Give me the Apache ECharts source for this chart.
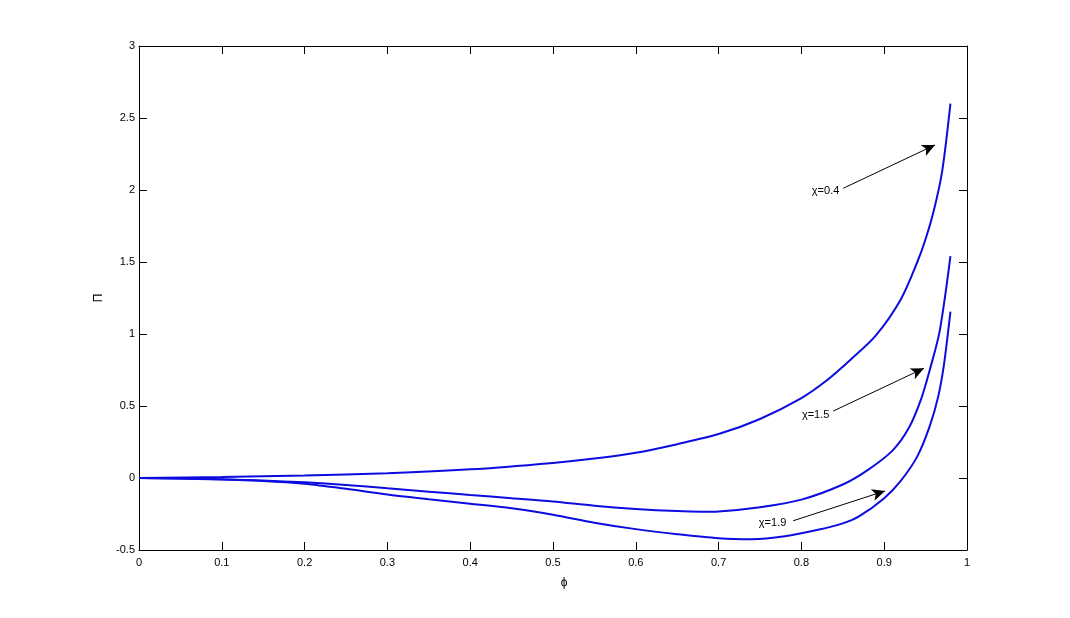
<!DOCTYPE html>
<html>
<head>
<meta charset="utf-8">
<script src="https://cdn.jsdelivr.net/npm/echarts@6/dist/echarts.min.js"></script>
<style>
html,body{margin:0;padding:0;background:#fff;}
#chart{width:1070px;height:618px;}
</style>
</head>
<body>
<div id="chart"></div>
<script>
// Curve chi = 0.4
var x04 = [0, 0.1, 0.2, 0.3, 0.4, 0.5, 0.55, 0.6, 0.65, 0.7, 0.75, 0.8, 0.83, 0.86, 0.89, 0.92, 0.94, 0.95, 0.96, 0.97, 0.98];
var y04 = [0, 0.007, 0.018, 0.033, 0.06, 0.105, 0.135, 0.175, 0.235, 0.305, 0.41, 0.555, 0.675, 0.825, 0.99, 1.24, 1.5, 1.66, 1.86, 2.13, 2.6];
// Curve chi = 1.5
var x15 = [0, 0.1, 0.15, 0.2, 0.25, 0.3, 0.35, 0.4, 0.45, 0.5, 0.55, 0.6, 0.65, 0.68, 0.7, 0.75, 0.8, 0.85, 0.88, 0.91, 0.93, 0.945, 0.955, 0.967, 0.98];
var y15 = [0, -0.008, -0.018, -0.03, -0.048, -0.072, -0.095, -0.118, -0.14, -0.163, -0.193, -0.215, -0.23, -0.234, -0.232, -0.203, -0.15, -0.045, 0.055, 0.19, 0.35, 0.555, 0.75, 1.02, 1.54];
// Curve chi = 1.9
var x19 = [0, 0.1, 0.15, 0.2, 0.25, 0.3, 0.35, 0.4, 0.45, 0.5, 0.55, 0.6, 0.65, 0.7, 0.74, 0.78, 0.82, 0.85, 0.87, 0.9, 0.92, 0.94, 0.955, 0.965, 0.972, 0.98];
var y19 = [0, -0.01, -0.02, -0.04, -0.075, -0.115, -0.148, -0.178, -0.21, -0.255, -0.31, -0.355, -0.39, -0.418, -0.425, -0.405, -0.36, -0.315, -0.265, -0.14, -0.02, 0.15, 0.36, 0.56, 0.78, 1.155];

// Annotation labels and arrows (data coordinates)
var annLabels = ['\u03c7=0.4', '\u03c7=1.5', '\u03c7=1.9'];
var annTextPos = [[0.847, 1.995], [0.835, 0.4375], [0.783, -0.31]];
var annArrowFrom = [[0.8506, 2.012], [0.8385, 0.465], [0.790, -0.297]];
var annArrowTo = [[0.9614, 2.313], [0.948, 0.762], [0.901, -0.090]];

var xTicks = {min: 0, max: 1, interval: 0.1};
var yTicks = {min: -0.5, max: 3, interval: 0.5};

function pairs(xs, ys){ return xs.map(function(v,i){ return [v, ys[i]]; }); }

var FONT = 'Liberation Sans, Arial, Helvetica, sans-serif';
var curveColor = '#0c0ce0';

function curve(xs, ys, idx){
  return {
    type: 'line',
    data: pairs(xs, ys),
    showSymbol: false,
    smooth: 0.3,
    lineStyle: {color: curveColor, width: 2},
    itemStyle: {color: curveColor},
    silent: true,
    markLine: {
      silent: true,
      animation: false,
      label: {show: false},
      lineStyle: {color: '#000', width: 1, type: 'solid'},
      data: [[
        {coord: annArrowFrom[idx], symbol: 'none'},
        {coord: annArrowTo[idx], symbol: 'arrow', symbolSize: [9, 13]}
      ]]
    },
    markPoint: {
      silent: true,
      animation: false,
      symbol: 'circle',
      symbolSize: 0,
      data: [{coord: annTextPos[idx], value: annLabels[idx]}],
      label: {
        show: true,
        position: 'left',
        distance: 1,
        formatter: annLabels[idx],
        color: '#000',
        fontFamily: FONT,
        fontSize: 11
      }
    }
  };
}

var chart = echarts.init(document.getElementById('chart'), null, {renderer: 'canvas'});
var axisLineStyle = {show: true, onZero: false, lineStyle: {color: '#000', width: 1}};
var tickStyle = {show: true, inside: true, length: 8, lineStyle: {color: '#000', width: 1}};
var labelStyle = {color: '#000', fontFamily: FONT, fontSize: 11};

chart.setOption({
  animation: false,
  backgroundColor: '#fff',
  grid: {left: 139, top: 46, right: 103, bottom: 68, containLabel: false},
  xAxis: [{
    type: 'value', position: 'bottom',
    min: xTicks.min, max: xTicks.max, interval: xTicks.interval,
    axisLine: axisLineStyle, axisTick: tickStyle,
    axisLabel: Object.assign({margin: 7, formatter: function(v){ return +v.toFixed(1) + ''; }}, labelStyle),
    splitLine: {show: false},
    name: '\u03d5', nameLocation: 'middle', nameGap: 27,
    nameTextStyle: {color: '#000', fontFamily: FONT, fontSize: 12, padding: [0, 0, 0, 22]}
  }, {
    type: 'value', position: 'top',
    min: xTicks.min, max: xTicks.max, interval: xTicks.interval,
    axisLine: axisLineStyle, axisTick: tickStyle,
    axisLabel: {show: false}, splitLine: {show: false}
  }],
  yAxis: [{
    type: 'value', position: 'left',
    min: yTicks.min, max: yTicks.max, interval: yTicks.interval,
    axisLine: axisLineStyle, axisTick: tickStyle,
    axisLabel: Object.assign({margin: 4, formatter: function(v){ return +v.toFixed(1) + ''; }}, labelStyle),
    splitLine: {show: false},
    name: '\u03a0', nameLocation: 'middle', nameGap: 34, nameRotate: 90,
    nameTextStyle: {color: '#000', fontFamily: FONT, fontSize: 12}
  }, {
    type: 'value', position: 'right',
    min: yTicks.min, max: yTicks.max, interval: yTicks.interval,
    axisLine: axisLineStyle, axisTick: tickStyle,
    axisLabel: {show: false}, splitLine: {show: false}
  }],
  series: [curve(x04, y04, 0), curve(x15, y15, 1), curve(x19, y19, 2)]
});
</script>
</body>
</html>
